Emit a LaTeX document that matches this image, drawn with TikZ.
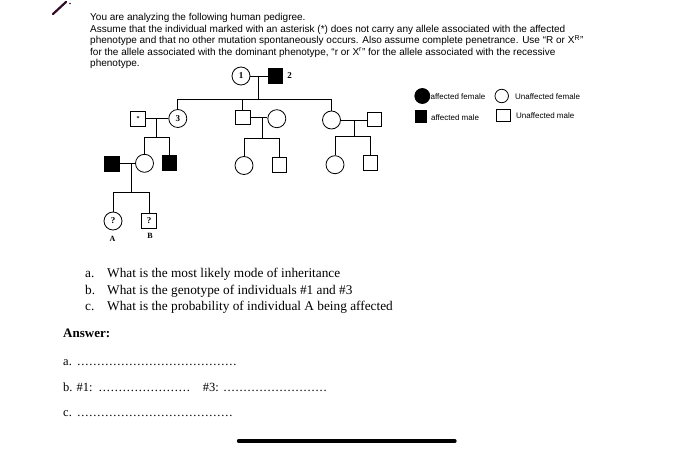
\documentclass[tikz,border=0pt]{standalone}
\usepackage{fontspec}
\setmainfont{Liberation Serif}
\newfontfamily\arialf{Liberation Sans}
\newcommand\mydots[1]{\makebox[#1][l]{\leaders\hbox to 4pt{\hss.\hss}\hfill}}
\begin{document}
\begin{tikzpicture}[x=1pt,y=-1pt,
  fem/.style={draw,circle,inner sep=0pt,minimum size=18pt,line width=0.8pt,font=\fontsize{9}{9}\selectfont\bfseries},
  mal/.style={draw,rectangle,inner sep=0pt,minimum size=14.5pt,line width=0.8pt,font=\fontsize{9}{9}\selectfont\bfseries},
  aff/.style={fill=black},
  ped/.style={line width=0.8pt},
  hdr/.style={anchor=base west,inner sep=0pt,font=\arialf\fontsize{10}{10}\selectfont},
  leg/.style={anchor=west,inner sep=0pt,font=\arialf\fontsize{8}{8}\selectfont},
  qst/.style={anchor=base west,inner sep=0pt,font=\fontsize{13.3}{13.3}\selectfont},
  ans/.style={anchor=base west,inner sep=0pt,font=\fontsize{12.5}{12.5}\selectfont},
  lbl/.style={inner sep=0pt,font=\fontsize{8}{8}\selectfont\bfseries}]
\useasboundingbox (0,0) rectangle (700,449);
% corner mark
\draw[line width=2.2pt,color={rgb,255:red,50;green,10;blue,40},line cap=round] (53,14) -- (66,2);
\fill[color={rgb,255:red,50;green,10;blue,40}] (70,3.5) circle (0.8);
% header
\node[hdr] (h1) at (90,21) {You are analyzing the following human pedigree.};
\node[hdr] (h2) at (90,32.5) {Assume that the individual marked with an asterisk (*) does not carry any allele associated with the affected};
\node[hdr] (h3) at (90,44) {phenotype and that no other mutation spontaneously occurs. Also assume complete penetrance. Use “R or X\textsuperscript{R}”};
\node[hdr] (h4) at (90,55.5) {for the allele associated with the dominant phenotype, “r or X\textsuperscript{r}” for the allele associated with the recessive};
\node[hdr] (h5) at (90,67) {phenotype.};
% generation I
\node[fem] (p1) at (241,76) {1};
\node[mal,aff] (p2) at (275.5,76) {};
\node[lbl,font=\fontsize{9}{9}\selectfont\bfseries] (n2) at (289.5,75.5) {2};
\coordinate (s1) at (258.3,99.3);
\draw[ped] (p1) -- (p2);
\draw[ped] (s1 |- p1) -- (s1);
% generation II
\node[mal] (ast) at (138,118.7) {\fontsize{6}{6}\selectfont *};
\node[fem] (p3) at (177.8,118.5) {3};
\node[mal] (m2) at (242.8,117.5) {};
\node[fem] (m2w) at (276.8,118.7) {};
\node[fem] (f3) at (331.5,120) {};
\node[mal] (f3h) at (374.5,119.3) {};
\draw[ped] (p3.north) |- (f3.north |- s1) -- (f3.north);
\draw[ped] (m2.north) -- (m2.north |- s1);
% family of 3
\coordinate (s2) at (156.7,137.3);
\draw[ped] (ast.east) -- (p3.west |- ast.east);
\draw[ped] (s2 |- ast.east) -- (s2);
\node[fem] (d1) at (144.5,163.3) {};
\node[mal,aff] (s3) at (169.2,163) {};
\draw[ped] (d1.north) |- (s3.north |- s2) -- (s3.north);
% middle family
\coordinate (s4) at (262.3,138.3);
\draw[ped] (m2.east) -- (m2w.west |- m2.east);
\draw[ped] (s4 |- m2.east) -- (s4);
\node[fem] (mc1) at (244,165.5) {};
\node[mal] (mc2) at (279.5,164.7) {};
\draw[ped] (mc1.north) |- (mc2.north |- s4) -- (mc2.north);
% right family
\coordinate (s5) at (354.3,136.7);
\draw[ped] (f3.east) -- (f3h.west |- f3.east);
\draw[ped] (s5 |- f3.east) -- (s5);
\node[fem] (rc1) at (335,164.7) {};
\node[mal] (rc2) at (370.3,163) {};
\draw[ped] (rc1.north) |- (rc2.north |- s5) -- (rc2.north);
% generation III couple
\node[mal,aff] (h) at (111.7,163.7) {};
\coordinate (s6) at (131.7,192.7);
\draw[ped] (h.east) -- (d1.west |- h.east);
\draw[ped] (s6 |- h.east) -- (s6);
\node[fem] (A) at (113,221) {?};
\node[mal] (B) at (149,221) {?};
\draw[ped] (A.north) |- (B.north |- s6) -- (B.north);
\node[lbl] (la) at (112.5,238.5) {A};
\node[lbl] (lb) at (150,236) {B};
% legend
\node[fem,aff,minimum size=15pt] (l1) at (422.3,96) {};
\node[leg] (t1) at (430.5,97) {affected female};
\node[fem,minimum size=13.5pt] (l2) at (501.7,96) {};
\node[leg] (t2) at (515,96.5) {Unaffected female};
\node[mal,aff,minimum width=11pt,minimum height=12pt] (l3) at (421.3,116.7) {};
\node[leg] (t3) at (431,117.5) {affected male};
\node[mal,minimum width=14pt,minimum height=12.5pt] (l4) at (503,115.3) {};
\node[leg] (t4) at (516,115.5) {Unaffected male};
% questions
\node[qst] (qa) at (85,277.5) {a.};
\node[qst] (qat) at (107,277.5) {What is the most likely mode of inheritance};
\node[qst] (qb) at (85,294) {b.};
\node[qst] (qbt) at (107,294) {What is the genotype of individuals \#1 and \#3};
\node[qst] (qc) at (85,310.5) {c.};
\node[qst] (qct) at (107,310.5) {What is the probability of individual A being affected};
\node[qst,font=\fontsize{13}{13}\selectfont\bfseries] (ansh) at (63,337) {Answer:};
\node[ans] (aa) at (63,365) {a.};
\node[ans] (aad) at (76.7,365) {\mydots{162pt}};
\node[ans] (ab) at (63,391) {b. \#1:};
\node[ans] (abd) at (98.3,391) {\mydots{92pt}};
\node[ans] (ab3) at (202.7,391) {\#3:};
\node[ans] (ab3d) at (223,391) {\mydots{104pt}};
\node[ans] (ac) at (63,416.5) {c.};
\node[ans] (acd) at (76.7,416.5) {\mydots{158pt}};
% bottom bar
\draw[line width=3.3pt,line cap=round] (238.5,441) -- (455,441);
\end{tikzpicture}
\end{document}
